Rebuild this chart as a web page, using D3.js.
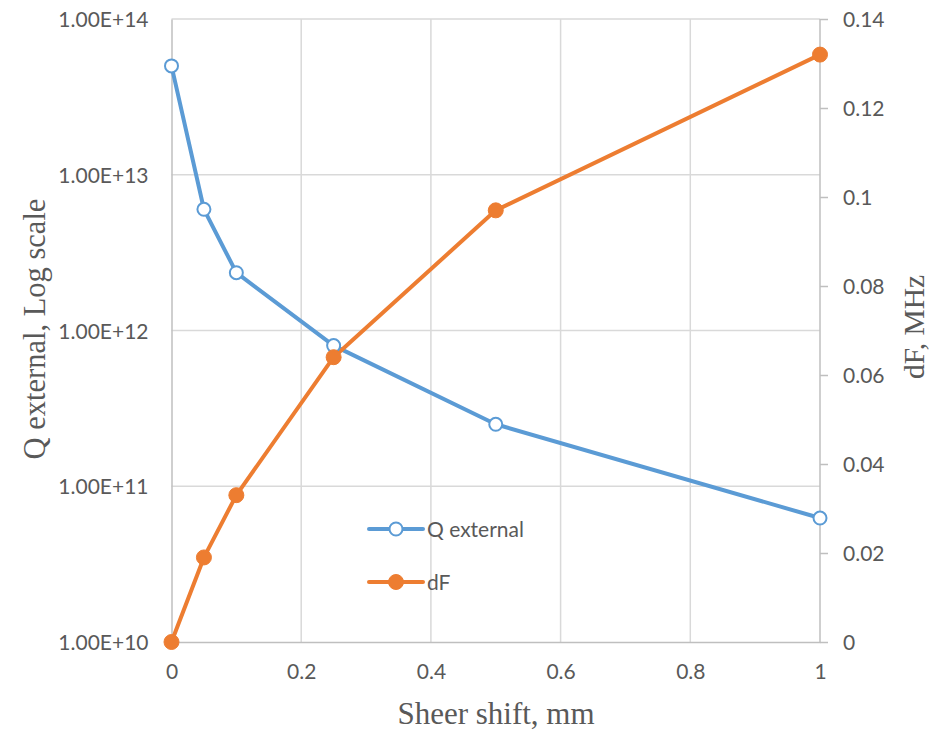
<!DOCTYPE html>
<html>
<head>
<meta charset="utf-8">
<script src="https://cdn.jsdelivr.net/npm/d3@7"></script>
<style>
  html, body { margin: 0; padding: 0; background: #fff; }
  svg { display: block; }
</style>
</head>
<body>
<svg id="chart" width="930" height="732"></svg>
<script>
// Sheer shift (mm) and the two measured quantities
const shift = [0, 0.05, 0.1, 0.25, 0.5, 1];
const qExternal = [5.0e13, 6.0e12, 2.35e12, 8.0e11, 2.5e11, 6.25e10];
const dF = [0, 0.019, 0.033, 0.064, 0.097, 0.132];

const xTicks = [0, 0.2, 0.4, 0.6, 0.8, 1];
const qTicks = [1e10, 1e11, 1e12, 1e13, 1e14];
const qTickLabels = ["1.00E+10", "1.00E+11", "1.00E+12", "1.00E+13", "1.00E+14"];
const dfTicks = [0, 0.02, 0.04, 0.06, 0.08, 0.1, 0.12, 0.14];

const seriesNames = ["Q external", "dF"];
const colors = { q: "#5B9BD5", df: "#ED7D31" };

const svg = d3.select("#chart");
const plotLeft = 171.5, plotRight = 820, plotTop = 19, plotBottom = 642;

const x = d3.scaleLinear().domain([0, 1]).range([plotLeft, plotRight]);
const yQ = d3.scaleLog().domain([1e10, 1e14]).range([plotBottom, plotTop]);
const yF = d3.scaleLinear().domain([0, 0.14]).range([plotBottom, plotTop]);

const tickFont = "Lato, 'Open Sans', sans-serif";
const titleFont = "'Liberation Serif', 'Times New Roman', serif";
const textColor = "#595959";
const tickSize = 21;

// Gridlines
const grid = svg.append("g");
grid.selectAll("line.v").data(xTicks.filter(d => d > 0 && d < 1)).join("line")
  .attr("class", "v")
  .attr("x1", d => x(d)).attr("x2", d => x(d))
  .attr("y1", plotTop).attr("y2", plotBottom)
  .attr("stroke", "#d9d9d9").attr("stroke-width", 1.5);
grid.selectAll("line.h").data(qTicks.slice(1)).join("line")
  .attr("class", "h")
  .attr("x1", plotLeft).attr("x2", plotRight)
  .attr("y1", d => yQ(d)).attr("y2", d => yQ(d))
  .attr("stroke", "#d9d9d9").attr("stroke-width", 1.5);

// Left axis (log)
const axisLeft = d3.axisLeft(yQ).tickValues(qTicks)
  .tickFormat((d, i) => qTickLabels[i]).tickSize(0).tickPadding(23);
const gL = svg.append("g").attr("transform", `translate(${plotLeft},0)`).call(axisLeft);
gL.select(".domain").attr("stroke", "#bfbfbf").attr("stroke-width", 1.5);

// Right axis (linear)
const axisRight = d3.axisRight(yF).tickValues(dfTicks)
  .tickFormat(d => d3.format("~g")(d)).tickSize(8).tickPadding(15);
const gR = svg.append("g").attr("transform", `translate(${plotRight},0)`).call(axisRight);
gR.select(".domain").attr("stroke", "#bfbfbf").attr("stroke-width", 1.5).attr("d", `M0,${plotTop}V${plotBottom}`);
gR.selectAll(".tick line").attr("stroke", "#bfbfbf").attr("stroke-width", 1.5);

// Bottom axis
const axisBottom = d3.axisBottom(x).tickValues(xTicks)
  .tickFormat(d => d3.format("~g")(d)).tickSize(0).tickPadding(22);
const gB = svg.append("g").attr("transform", `translate(0,${plotBottom})`).call(axisBottom);
gB.select(".domain").attr("stroke", "#bfbfbf").attr("stroke-width", 1.5);

svg.selectAll(".tick text")
  .attr("font-family", tickFont).attr("font-size", tickSize).attr("fill", textColor);
gL.selectAll(".tick text").attr("dy", "0.36em");
gR.selectAll(".tick text").attr("dy", "0.36em");

// Axis titles
svg.append("text")
  .attr("x", 496).attr("y", 724)
  .attr("text-anchor", "middle")
  .attr("font-family", titleFont).attr("font-size", 31).attr("fill", textColor)
  .text("Sheer shift, mm");
svg.append("text")
  .attr("transform", `translate(45,329) rotate(-90)`)
  .attr("text-anchor", "middle")
  .attr("font-family", titleFont).attr("font-size", 30.5).attr("fill", textColor)
  .text("Q external, Log scale");
svg.append("text")
  .attr("transform", `translate(924,327) rotate(-90)`)
  .attr("text-anchor", "middle")
  .attr("font-family", titleFont).attr("font-size", 29.5).attr("fill", textColor)
  .text("dF, MHz");

// Series lines
const qLine = d3.line().x((d, i) => x(shift[i])).y(d => yQ(d));
const fLine = d3.line().x((d, i) => x(shift[i])).y(d => yF(d));

svg.append("path").datum(qExternal).attr("d", qLine)
  .attr("fill", "none").attr("stroke", colors.q).attr("stroke-width", 4)
  .attr("stroke-linejoin", "round");
svg.append("path").datum(dF).attr("d", fLine)
  .attr("fill", "none").attr("stroke", colors.df).attr("stroke-width", 4)
  .attr("stroke-linejoin", "round");

svg.append("g").selectAll("circle").data(qExternal).join("circle")
  .attr("cx", (d, i) => x(shift[i])).attr("cy", d => yQ(d)).attr("r", 6.5)
  .attr("fill", "#fff").attr("stroke", colors.q).attr("stroke-width", 2);
svg.append("g").selectAll("circle").data(dF).join("circle")
  .attr("cx", (d, i) => x(shift[i])).attr("cy", d => yF(d)).attr("r", 7.5)
  .attr("fill", colors.df).attr("stroke", colors.df).attr("stroke-width", 1);

// Legend
const legend = svg.append("g");
const legendItems = [
  { name: seriesNames[0], color: colors.q, open: true, y: 529 },
  { name: seriesNames[1], color: colors.df, open: false, y: 582 }
];
legendItems.forEach(it => {
  legend.append("line").attr("x1", 369).attr("x2", 423).attr("y1", it.y).attr("y2", it.y)
    .attr("stroke", it.color).attr("stroke-width", 4).attr("stroke-linecap", "round");
  legend.append("circle").attr("cx", 396).attr("cy", it.y).attr("r", it.open ? 6.5 : 7.5)
    .attr("fill", it.open ? "#fff" : it.color).attr("stroke", it.color).attr("stroke-width", it.open ? 2 : 1);
  legend.append("text").attr("x", 427).attr("y", it.y).attr("dy", "0.36em")
    .attr("font-family", tickFont).attr("font-size", tickSize).attr("fill", textColor)
    .text(it.name);
});
</script>
</body>
</html>
